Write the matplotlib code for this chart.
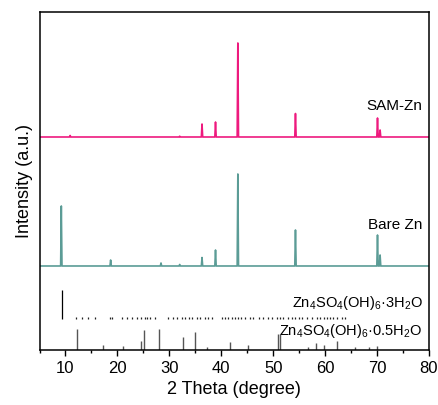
import numpy as np
import matplotlib
matplotlib.use("Agg")
import matplotlib.pyplot as plt
from matplotlib.ticker import MultipleLocator

plt.rcParams["font.family"] = ["Liberation Sans", "DejaVu Sans"]
plt.rcParams["mathtext.default"] = "regular"

# peak lists: position (deg), height (a.u.)
sam_pos = [10.9, 32.0, 36.3, 38.9, 43.2, 54.3, 70.1, 70.6]
sam_h = [1.5, 0.8, 13, 15, 94, 23.5, 19, 7]
bare_pos = [9.2, 18.7, 28.4, 32.0, 36.3, 38.9, 43.2, 54.3, 70.1, 70.6]
bare_h = [60, 6, 3, 1.5, 8.5, 16, 92, 36, 31, 11]

# reference patterns
ref3_main = [9.3]
ref3_main_h = [29]
ref3_pos = [12.0, 13.1, 14.4, 15.7, 18.6, 19.0, 20.8, 21.8, 22.8, 23.7, 24.6, 25.3,
            25.7, 26.3, 27.3, 29.8, 30.8, 31.4, 32.4, 33.0, 33.7, 34.3, 35.3, 35.9,
            36.9, 37.5, 38.2, 40.1, 40.7, 41.4, 42.0, 42.7, 43.3, 43.9, 44.6, 45.6,
            46.2, 47.2, 48.1, 49.1, 49.7, 50.7, 51.3, 51.9, 52.9, 53.6, 54.2, 54.9,
            55.5, 56.5, 57.4, 58.4, 59.0, 59.7, 60.3, 61.0, 61.6, 62.3, 63.2, 63.9]
ref05_pos = [12.3, 17.2, 21.1, 24.6, 25.1, 28.0, 32.6, 35.0, 37.2, 41.6, 45.1,
             50.9, 51.4, 56.7, 58.3, 59.7, 62.3, 65.7, 68.5, 70.0]
ref05_h = [21, 5, 4.5, 9.5, 20, 21.5, 13, 18, 3, 8, 5,
           16.5, 16.5, 3, 7.5, 5, 9.5, 3, 3, 4]

sam_off = 213.5
bare_off = 84.5
ref3_off = 31.5


def spikes(pos, h, base, lo=5, hi=80, w=0.13):
    xs, ys = [lo], [base]
    for p, v in sorted(zip(pos, h)):
        xs += [p - w, p, p + w]
        ys += [base, base + v, base]
    xs.append(hi)
    ys.append(base)
    return xs, ys


fig = plt.figure(figsize=(4.39, 4.05), dpi=100)
ax = fig.add_axes([0.09, 0.1346, 0.887, 0.837])

x, y = spikes(sam_pos, sam_h, sam_off)
ax.plot(x, y, color="#ee1a7e", lw=1.2)
x, y = spikes(bare_pos, bare_h, bare_off)
ax.plot(x, y, color="#5b9c96", lw=1.2)

ax.vlines(ref3_main, ref3_off, [ref3_off + v for v in ref3_main_h], color="black", lw=0.9)
ax.vlines(ref3_pos, ref3_off, ref3_off + 2.2, color="#222222", lw=0.9)
ax.vlines(ref05_pos, 0, ref05_h, color="#555555", lw=1.0)

ax.text(78.8, 237, "SAM-Zn", ha="right", va="bottom", fontsize=11)
ax.text(78.8, 118, "Bare Zn", ha="right", va="bottom", fontsize=11)
ax.text(78.8, 47, r"Zn$_4$SO$_4$(OH)$_6$·3H$_2$O", ha="right", va="center", fontsize=10.5)
ax.text(78.8, 19, r"Zn$_4$SO$_4$(OH)$_6$·0.5H$_2$O", ha="right", va="center", fontsize=10.5)

ax.set_xlim(5, 80)
ax.set_ylim(0, 339)
ax.xaxis.set_major_locator(MultipleLocator(10))
ax.xaxis.set_minor_locator(MultipleLocator(5))
ax.tick_params(axis="x", which="major", direction="out", length=4, width=1, labelsize=12)
ax.tick_params(axis="x", which="minor", direction="out", length=2.5, width=1)
ax.set_yticks([])
for s in ax.spines.values():
    s.set_linewidth(1.1)
ax.set_xlabel("2 Theta (degree)", fontsize=13, labelpad=4)
ax.set_ylabel("Intensity (a.u.)", fontsize=13, labelpad=5)

fig.savefig("out.png", dpi=100)
